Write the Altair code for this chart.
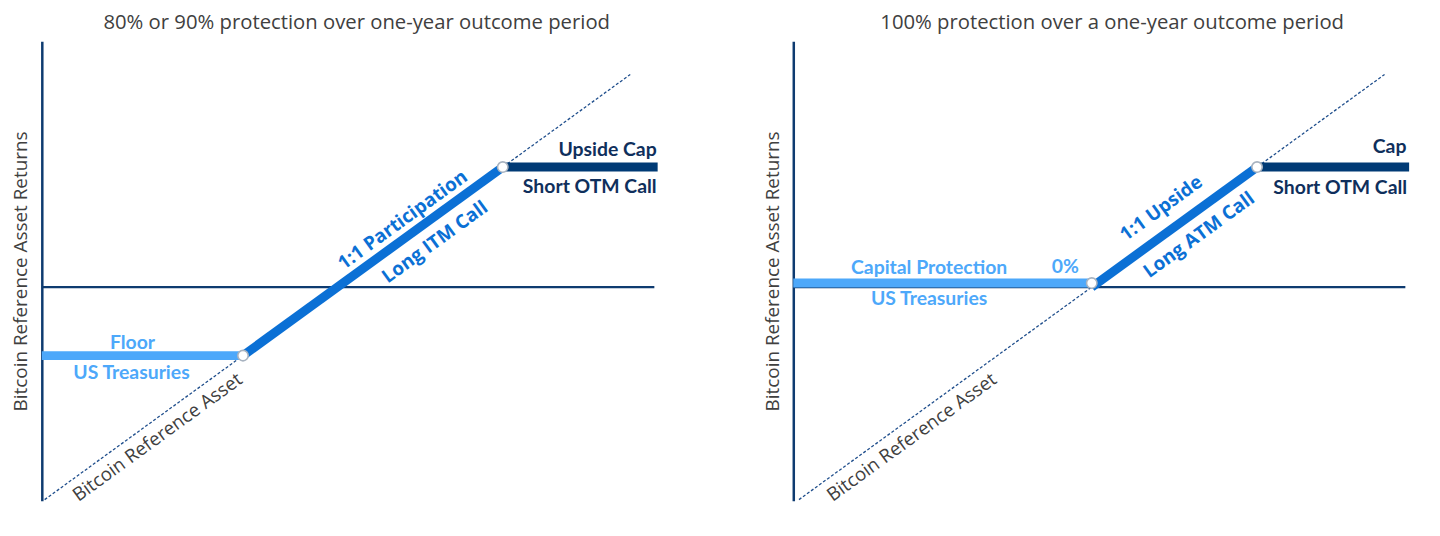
"""
Two structured-outcome payoff diagrams side by side (Bitcoin reference asset).
"""

import altair as alt
import pandas as pd

# Diagram extents in % return
Y_DOMAIN = [-62.3, 71.7]
LEFT_X_DOMAIN = [-62.6, 67.8]
RIGHT_X_DOMAIN = [-63.2, 67.2]
REF_RANGE = [-62, 62]  # dashed reference-asset line, y = x
LEFT_AXIS_END = 67.1
RIGHT_AXIS_END = 66.4

# Payoff kinks
LEFT_FLOOR = -20
LEFT_CAP = 35
RIGHT_FLOOR = 0
RIGHT_CAP = 35

LEFT_TITLE = "80% or 90% protection over one-year outcome period"
RIGHT_TITLE = "100% protection over a one-year outcome period"
Y_TITLE = "Bitcoin Reference Asset Returns"
REF_LABEL = "Bitcoin Reference Asset"

LEFT_LABELS = ["Floor", "US Treasuries", "1:1 Participation", "Long ITM Call",
               "Upside Cap", "Short OTM Call"]
RIGHT_LABELS = ["Capital Protection", "US Treasuries", "0%", "1:1 Upside",
                "Long ATM Call", "Cap", "Short OTM Call"]

PANEL_WIDTH = 619.3
PANEL_HEIGHT = 462
SLOPE_ANGLE = 324

AXIS_COLOR = "#0E3B70"
LIGHT_BLUE = "#4DA8FA"
BLUE = "#0B70D5"
NAVY = "#003A75"
NAVY_TEXT = "#0F2F5C"
GRAY_TEXT = "#404040"

Y_AXIS = alt.Axis(
    title=Y_TITLE, labels=False, ticks=False, grid=False,
    domainColor=AXIS_COLOR, domainWidth=2.5,
    titleFont="Open Sans", titleFontSize=19, titleFontWeight="normal",
    titleColor=GRAY_TEXT, titlePadding=15, titleBaseline="alphabetic"
)


def enc(x_domain):
    xs = alt.Scale(domain=x_domain, nice=False, zero=False)
    ys = alt.Scale(domain=Y_DOMAIN, nice=False, zero=False)
    return alt.X("x:Q", scale=xs, axis=None), alt.Y("y:Q", scale=ys, axis=Y_AXIS)


def segment(x_domain, x_vals, y_vals, color, lift=0):
    x, y = enc(x_domain)
    df = pd.DataFrame({"x": x_vals, "y": y_vals})
    return alt.Chart(df).mark_line(
        color=color, strokeWidth=9, strokeCap="butt", yOffset=lift
    ).encode(x=x, y=y)


def knot(x_domain, x_val, y_val, lift=0):
    x, y = enc(x_domain)
    df = pd.DataFrame({"x": [x_val], "y": [y_val]})
    return alt.Chart(df).mark_circle(
        size=110, color="white", opacity=1, stroke="#A8B3C0", strokeWidth=1.6,
        yOffset=lift
    ).encode(x=x, y=y)


def label(x_domain, x_val, y_val, text, **style):
    x, y = enc(x_domain)
    df = pd.DataFrame({"x": [x_val], "y": [y_val], "t": [text]})
    return alt.Chart(df).mark_text(baseline="alphabetic", **style).encode(
        x=x, y=y, text="t:N")


def flat_label(x_domain, x_val, y_val, text, color, **style):
    return label(x_domain, x_val, y_val, text, font="Lato", fontWeight="bold",
                 fontSize=19.5, color=color, **style)


def slope_label(x_domain, x_val, y_val, text, **style):
    return label(x_domain, x_val, y_val, text, font="Open Sans", fontWeight="bold",
                 fontSize=19, color=BLUE, angle=SLOPE_ANGLE, align="left", **style)


def base_panel(x_domain, axis_end, floor, cap, floor_lift):
    x, y = enc(x_domain)
    ref = alt.Chart(pd.DataFrame({"x": REF_RANGE, "y": REF_RANGE})).mark_line(
        color="#1F4E8C", strokeWidth=1.3, strokeDash=[3, 2]
    ).encode(x=x, y=y)

    zero = alt.Chart(pd.DataFrame({"x": [x_domain[0]], "x2": [axis_end], "y": [0]})).mark_rule(
        color=AXIS_COLOR, strokeWidth=2.2
    ).encode(x=x, x2="x2:Q", y=y)

    return [
        ref,
        zero,
        segment(x_domain, [x_domain[0], floor], [floor, floor], LIGHT_BLUE, floor_lift),
        segment(x_domain, [floor, cap], [floor, cap], BLUE),
        segment(x_domain, [cap, x_domain[1]], [cap, cap], NAVY),
        knot(x_domain, floor, floor, floor_lift),
        knot(x_domain, cap, cap),
        label(x_domain, REF_RANGE[0], REF_RANGE[0], REF_LABEL, font="Open Sans",
              fontSize=18.8, color=GRAY_TEXT, angle=SLOPE_ANGLE, align="left",
              dx=26, dy=22),
    ]


def title(text, dx):
    return alt.Title(text, font="Open Sans", fontSize=20.4, fontWeight="normal",
                     color=GRAY_TEXT, anchor="middle", baseline="alphabetic",
                     offset=-8, dx=dx)


def left_panel():
    xd = LEFT_X_DOMAIN
    floor_mid = (xd[0] + LEFT_FLOOR) / 2
    slope_mid = (LEFT_FLOOR + LEFT_CAP) / 2
    layers = base_panel(xd, LEFT_AXIS_END, LEFT_FLOOR, LEFT_CAP, 0)
    layers += [
        flat_label(xd, floor_mid, LEFT_FLOOR, LEFT_LABELS[0], LIGHT_BLUE, dx=-10, dy=-6.5),
        flat_label(xd, floor_mid, LEFT_FLOOR, LEFT_LABELS[1], LIGHT_BLUE, dx=-11, dy=24),
        slope_label(xd, slope_mid, slope_mid, LEFT_LABELS[2], dx=-29, dy=-10),
        slope_label(xd, slope_mid, slope_mid, LEFT_LABELS[3], dx=-1, dy=27),
        flat_label(xd, xd[1], LEFT_CAP, LEFT_LABELS[4], NAVY_TEXT, align="right", dx=-1, dy=-11),
        flat_label(xd, xd[1], LEFT_CAP, LEFT_LABELS[5], NAVY_TEXT, align="right", dx=-1, dy=26.5),
    ]
    return alt.layer(*layers).properties(
        width=PANEL_WIDTH, height=PANEL_HEIGHT, title=title(LEFT_TITLE, 7))


def right_panel():
    xd = RIGHT_X_DOMAIN
    floor_mid = (xd[0] + RIGHT_FLOOR) / 2
    slope_mid = (RIGHT_FLOOR + RIGHT_CAP) / 2
    layers = base_panel(xd, RIGHT_AXIS_END, RIGHT_FLOOR, RIGHT_CAP, -4)
    layers += [
        flat_label(xd, floor_mid, RIGHT_FLOOR, RIGHT_LABELS[0], LIGHT_BLUE, dx=-13.5, dy=-13.4),
        flat_label(xd, floor_mid, RIGHT_FLOOR, RIGHT_LABELS[1], LIGHT_BLUE, dx=-13.5, dy=18.3),
        flat_label(xd, RIGHT_FLOOR, RIGHT_FLOOR, RIGHT_LABELS[2], LIGHT_BLUE, align="right", dx=-13, dy=-14.4),
        slope_label(xd, slope_mid, slope_mid, RIGHT_LABELS[3], dx=-48, dy=-17),
        slope_label(xd, slope_mid, slope_mid, RIGHT_LABELS[4], dx=-51, dy=27),
        flat_label(xd, xd[1], RIGHT_CAP, RIGHT_LABELS[5], NAVY_TEXT, align="right", dx=-2.7, dy=-13.7),
        flat_label(xd, xd[1], RIGHT_CAP, RIGHT_LABELS[6], NAVY_TEXT, align="right", dx=-2, dy=26.7),
    ]
    return alt.layer(*layers).properties(
        width=PANEL_WIDTH, height=PANEL_HEIGHT, title=title(RIGHT_TITLE, 11))


chart = alt.hconcat(
    left_panel(), right_panel(), spacing=135.7, bounds="flush"
).configure_view(strokeWidth=0).properties(
    padding={"top": 3, "left": 4, "right": 5, "bottom": 5}
)

chart.save("out.html", embed_options={"renderer": "svg", "actions": False})
